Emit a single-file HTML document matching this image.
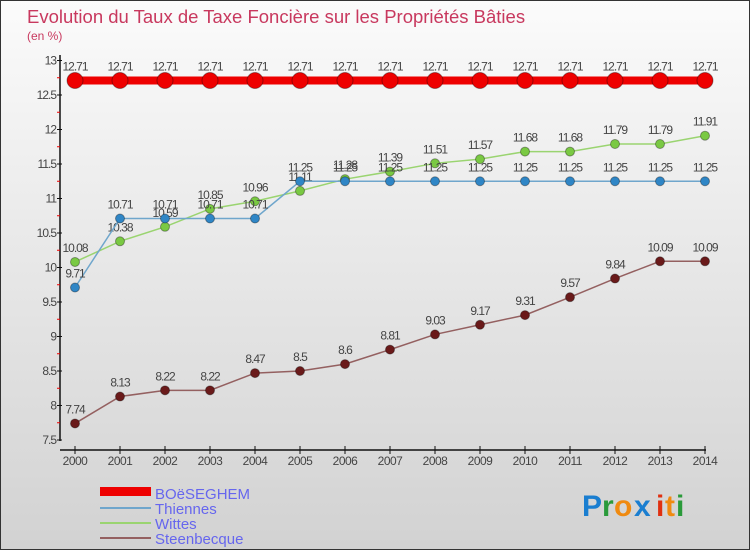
<!DOCTYPE html>
<html><head><meta charset="utf-8"><style>
body{margin:0;}
#c{width:750px;height:550px;position:relative;font-family:"Liberation Sans",sans-serif;}
</style></head><body>
<div id="c">
<svg width="750" height="550" xmlns="http://www.w3.org/2000/svg" id="svg">
<defs><linearGradient id="bg" x1="0" y1="0" x2="0" y2="1"><stop offset="0" stop-color="#fbfbfb"/><stop offset="1" stop-color="#d2d2d2"/></linearGradient></defs>
<rect x="0.5" y="0.5" width="749" height="549" fill="url(#bg)" stroke="#333"/>
<text x="27" y="23" font-size="18.5" fill="#c8385e">Evolution du Taux de Taxe Foncière sur les Propriétés Bâties</text>
<text x="27" y="40" font-size="12" fill="#c8385e">(en %)</text>
<g id="axes"></g>
<g id="series"></g>
<g id="legend">
<rect x="100" y="487" width="51" height="9" fill="#e00"/>
<text x="155" y="499" font-size="15" fill="#6666ee">BOëSEGHEM</text>
<line x1="100" y1="508" x2="151" y2="508" stroke="#6fa6cc" stroke-width="2"/>
<text x="155" y="514" font-size="15" fill="#6666ee">Thiennes</text>
<line x1="100" y1="523" x2="151" y2="523" stroke="#9ad470" stroke-width="2"/>
<text x="155" y="529" font-size="15" fill="#6666ee">Wittes</text>
<line x1="100" y1="538" x2="151" y2="538" stroke="#946060" stroke-width="2"/>
<text x="155" y="544" font-size="15" fill="#6666ee">Steenbecque</text>
</g>
<g font-size="30" font-family="Liberation Sans, sans-serif" font-weight="bold">
<text x="582" y="516" fill="#1a7ed0">P</text><text x="602" y="516" fill="#2a9a3a">r</text><text x="614" y="516" fill="#f08a10">o</text><text x="634" y="516" fill="#1a7ed0">x</text><text x="656" y="516" fill="#e03010">i</text><text x="665" y="516" fill="#f08a10">t</text><text x="676" y="516" fill="#2a9a3a">i</text>
</g>
</svg>
</div>
<script>
const years=[2000,2001,2002,2003,2004,2005,2006,2007,2008,2009,2010,2011,2012,2013,2014];
const boeseghem=[12.71,12.71,12.71,12.71,12.71,12.71,12.71,12.71,12.71,12.71,12.71,12.71,12.71,12.71,12.71];
const thiennes=[9.71,10.71,10.71,10.71,10.71,11.25,11.25,11.25,11.25,11.25,11.25,11.25,11.25,11.25,11.25];
const wittes=[10.08,10.38,10.59,10.85,10.96,11.11,11.28,11.39,11.51,11.57,11.68,11.68,11.79,11.79,11.91];
const steenbecque=[7.74,8.13,8.22,8.22,8.47,8.5,8.6,8.81,9.03,9.17,9.31,9.57,9.84,10.09,10.09];
const yTicks=[7.5,8,8.5,9,9.5,10,10.5,11,11.5,12,12.5,13];
const yTickLabels=["7.5","8","8.5","9","9.5","10","10.5","11","11.5","12","12.5","13"];

const NS="http://www.w3.org/2000/svg";
const xs=i=>75+45*i;
const ys=v=>60.5+(13-v)*69;
function mk(tag,attrs,parent){const e=document.createElementNS(NS,tag);for(const k in attrs)e.setAttribute(k,attrs[k]);parent.appendChild(e);return e;}
const axes=document.getElementById('axes'),ser=document.getElementById('series');
let a=mk('line',{x1:60,y1:55,x2:60,y2:441,stroke:'#111','stroke-width':1.5},axes);


a=mk('line',{x1:60,y1:450,x2:706,y2:450,stroke:'#111','stroke-width':1.5},axes);


yTicks.forEach((v,i)=>{
  mk('line',{x1:57,y1:ys(v),x2:62,y2:ys(v),stroke:'#111'},axes);
  if(i<yTicks.length-1)mk('line',{x1:57,y1:ys(v+0.25),x2:60,y2:ys(v+0.25),stroke:'#e00'},axes);
  const t=mk('text',{x:56,y:ys(v)+4,'font-size':12,fill:'#444','text-anchor':'end','letter-spacing':'-1'},axes);
  t.textContent=yTickLabels[i];
  
  
});
years.forEach((y,i)=>{
  mk('line',{x1:xs(i),y1:446,x2:xs(i),y2:454,stroke:'#111'},axes);
  const t=mk('text',{x:xs(i),y:465,'font-size':12,fill:'#444','text-anchor':'middle','letter-spacing':'-0.5'},axes);
  t.textContent=y;
  
  
});
function series(name,vals,color,width,r,fill){
  const g=mk('g',{},ser);
  
  
  const p=mk('polyline',{points:vals.map((v,i)=>xs(i)+','+ys(v)).join(' '),fill:'none',stroke:color,'stroke-width':width},g);
  
  
  vals.forEach((v,i)=>{
    const c=mk('circle',{cx:xs(i),cy:ys(v),r:r,fill:fill,stroke:'rgba(0,0,0,0.35)','stroke-width':1},g);
    
    
    const t=mk('text',{x:xs(i),y:ys(v)-10,'font-size':12,fill:'#444','text-anchor':'middle','letter-spacing':'-1'},g);
    t.textContent=String(v);
    
    
  });
}
series('steenbecque',steenbecque,'#946060',1.5,4.5,'#6a1a1a');
series('wittes',wittes,'#9ad470',1.5,4.5,'#7ac943');
series('thiennes',thiennes,'#6fa6cc',1.5,4.5,'#2f86c6');
series('boeseghem',boeseghem,'#e00',8,8,'#e00');
</script>
</body></html>
